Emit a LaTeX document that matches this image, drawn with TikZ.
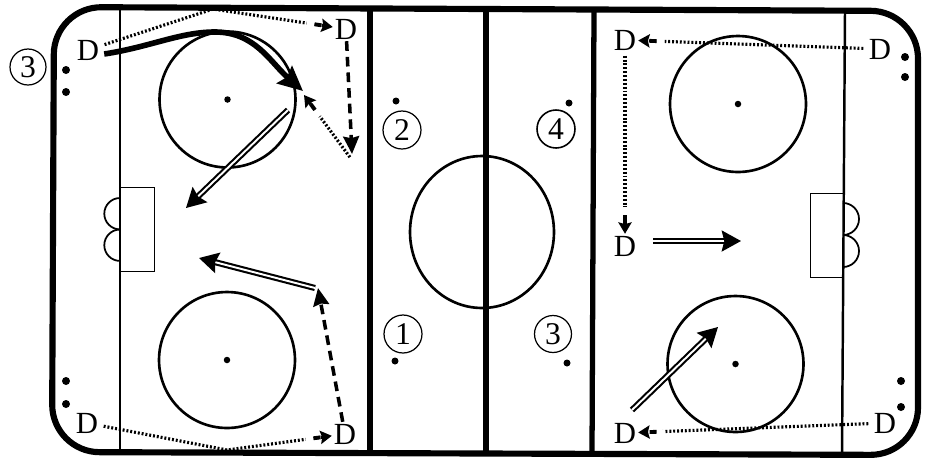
\documentclass[tikz,border=0pt]{standalone}
\usepackage{fontspec}
\setmainfont{Liberation Serif}
\usetikzlibrary{arrows.meta,shapes.geometric}

\begin{document}
\begin{tikzpicture}[
    x=0.02cm, y=-0.02cm,
    rink/.style={draw, line width=3.5pt, rounded corners=27pt},
    redline/.style={line width=3pt},
    goalline/.style={line width=1.4pt},
    faceoff/.style={draw, circle, line width=1.5pt, minimum size=2.72cm, inner sep=0pt},
    centre/.style={draw, ellipse, line width=1.5pt, minimum width=2.88cm, minimum height=3.04cm, inner sep=0pt},
    spot/.style={circle, fill=black, minimum size=0.16cm, inner sep=0pt},
    cspot/.style={circle, fill=black, minimum size=0.13cm, inner sep=0pt},
    player/.style={font=\fontsize{17.5}{20}\selectfont, inner sep=1pt},
    num/.style={draw, circle, line width=0.7pt, font=\fontsize{18}{20}\selectfont, minimum size=0.76cm, inner sep=0pt},
    net/.style={line width=0.5pt},
    crease/.style={line width=1pt},
    skate/.style={line width=1.8pt, dash pattern=on 1.1pt off 1.1pt, shorten <=2pt,
      -{Rectangle[length=4.5pt,width=2.6pt,sep=0pt,color=white]Rectangle[length=4pt,width=2.2pt,sep=0pt]Stealth[length=6.5pt,width=7.5pt,inset=1pt]}},
    carry/.style={line width=2pt, dash pattern=on 5.5pt off 3.4pt, -{Stealth[length=10pt,width=9pt,inset=1pt]}},
    shot/.style={double, line width=1.2pt, double distance=1.1pt, -{Stealth[length=11pt,width=12pt,inset=1.5pt]}},
    rush/.style={line width=3.2pt, -{Stealth[length=14pt,width=13pt,inset=2pt]}}
  ]
  \useasboundingbox (0,0) rectangle (926,461);

  % --- Rink ---
  \draw[rink] (54,7) -- (918,11) -- (918,455) -- (52,452) -- cycle;
  \draw[redline] (370,8) -- (370,452);
  \draw[line width=3.4pt] (486,9) -- (486,453);
  \draw[redline] (594,10) -- (592,454);
  \draw[goalline] (120,8) -- (120,452);
  \draw[goalline] (845,11) -- (842,455);

  % --- Circles ---
  \node[faceoff] (fc1) at (227.5,99.5) {};
  \node[faceoff] (fc2) at (227,360) {};
  \node[faceoff] (fc3) at (738,104) {};
  \node[faceoff] (fc4) at (735.5,364) {};
  \node[centre] (fc5) at (482,232) {};
  \node[cspot] at (fc1) {};
  \node[cspot] at (fc2) {};
  \node[cspot] at (fc3) {};
  \node[cspot] at (fc4) {};

  % --- Goals ---
  \draw[net] (120,187) rectangle (154,271);
  \draw[net] (810,193) rectangle (843,277);
  \draw[crease] (120,198) arc[start angle=270, end angle=90, radius=15.7];
  \draw[crease] (120,229.5) arc[start angle=270, end angle=90, radius=15.7];
  \draw[crease] (843,203) arc[start angle=270, end angle=450, radius=16];
  \draw[crease] (843,235) arc[start angle=270, end angle=450, radius=16];

  % --- Bench spots ---
  \node[spot] at (66,70) {};
  \node[spot] at (66,92) {};
  \node[spot] at (66,381) {};
  \node[spot] at (66,404) {};
  \node[spot] at (905,57) {};
  \node[spot] at (905,77) {};
  \node[spot] at (901,381) {};
  \node[spot] at (901,407) {};
  \node[cspot, minimum size=0.14cm] at (396,101) {};
  \node[cspot, minimum size=0.14cm] at (569,103) {};
  \node[cspot, minimum size=0.14cm] at (395,361) {};
  \node[cspot, minimum size=0.14cm] at (567,363) {};

  % --- Numbers ---
  \node[num, minimum size=0.72cm] (n1) at (28,67) {3};
  \node[num] (n2) at (402,130) {2};
  \node[num, line width=0.9pt] (n3) at (556,129) {4};
  \node[num] (n4) at (403,334) {1};
  \node[num, minimum size=0.74cm] (n5) at (553,334) {3};

  % --- Players ---
  \node[player] (dlt) at (88,50) {D};
  \node[player] (dmt) at (346,29) {D};
  \node[player] (dlb) at (87,423) {D};
  \node[player] (dmb) at (345,434) {D};
  \node[player] (drt) at (625,40) {D};
  \node[player] (dft) at (880,49) {D};
  \node[player] (drm) at (625,246) {D};
  \node[player] (drb) at (625,433) {D};
  \node[player] (dfb) at (885,423) {D};

  % --- Left half ---
  \coordinate (boardt) at (213,9);
  \coordinate (boardb) at (227,450);
  \coordinate (turn) at (352,160);
  \coordinate (dropt) at (352,154);
  \coordinate (tipt) at (303,91);
  \coordinate (passt) at (304,95);
  \coordinate (shott) at (186,208);
  \coordinate (startt) at (288,110);
  \coordinate (cutb) at (318,288);
  \coordinate (startb) at (315,288);
  \coordinate (shotb) at (199,258);
  \draw[skate] (dlt) -- (boardt) -- (dmt);
  \draw[carry] (dmt) -- (dropt);
  \draw[skate] (turn) -- (passt);
  \draw[rush] ([shift={(3,4)}]dlt.east) .. controls (150,47) and (180,32) .. (215,32)
    .. controls (255,32) and (270,62) .. (tipt);
  \draw[shot] (startt) -- (shott);
  \draw[skate] (dlb) -- (boardb) -- (dmb);
  \draw[carry] (dmb) -- (cutb);
  \draw[shot] (startb) -- (shotb);

  % --- Right half ---
  \coordinate (startr) at (632,410);
  \coordinate (shotr) at (718,327);
  \coordinate (shotm) at (741,241);
  \coordinate (startm) at (653,241);
  \draw[skate] (dft) -- (drt);
  \draw[skate] (drt) -- (drm);
  \draw[skate] (dfb) -- (drb);
  \draw[shot] (startm) -- (shotm);
  \draw[shot] (startr) -- (shotr);
\end{tikzpicture}
\end{document}
